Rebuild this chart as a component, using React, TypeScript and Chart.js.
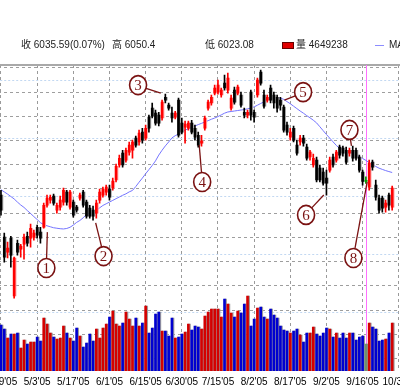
import React, { useEffect, useRef } from 'react';
import { Chart, registerables } from 'chart.js';
Chart.register(...registerables);

// ---- data ----
const tickIdx = [0, 11, 22, 33, 44, 55, 66, 77, 88, 99, 110, 121];
const tickLabels = ["4/19'05", "5/3'05", "5/17'05", "6/1'05", "6/15'05", "6/30'05", "7/15'05", "8/2'05", "8/17'05", "9/2'05", "9/16'05", "10/3'05"];

const opens = [
  5975, 5801, 5739, 5797, 5558, 5776, 5752, 5772, 5805, 5797,
  5801, 5842, 5822, 5842, 5933, 5954, 5971, 5913, 5925, 5946,
  5987, 5925, 5946, 5925, 5962, 5987, 5946, 5921, 5913, 5900,
  5954, 5975, 5987, 6000, 6004, 6037, 6099, 6148, 6119, 6152,
  6160, 6210, 6194, 6235, 6210, 6297, 6334, 6313, 6305, 6293,
  6379, 6346, 6313, 6297, 6367, 6272, 6255, 6251, 6272, 6251,
  6222, 6189, 6251, 6334, 6355, 6396, 6400, 6388, 6437, 6408,
  6334, 6408, 6396, 6388, 6317, 6305, 6400, 6317, 6388, 6483,
  6388, 6367, 6417, 6388, 6379, 6367, 6338, 6264, 6214, 6251,
  6181, 6194, 6210, 6173, 6132, 6099, 6119, 6086, 6070, 6045,
  6078, 6132, 6119, 6173, 6169, 6160, 6148, 6160, 6160, 6132,
  6070, 6031, 6008, 6111, 6016, 5962, 5962, 5925, 5975, 5925,
];
const highs = [
  5995, 5818, 5781, 5805, 5719, 5789, 5772, 5814, 5822, 5855,
  5830, 5851, 5842, 5942, 5975, 5975, 5979, 5942, 5971, 6004,
  5995, 5995, 5954, 5933, 5983, 5995, 5954, 5933, 5929, 5954,
  6000, 6008, 6016, 6016, 6045, 6103, 6140, 6160, 6169, 6194,
  6202, 6218, 6243, 6251, 6264, 6305, 6355, 6326, 6317, 6367,
  6392, 6355, 6338, 6321, 6375, 6293, 6280, 6280, 6284, 6264,
  6235, 6222, 6301, 6367, 6388, 6429, 6450, 6417, 6470, 6479,
  6388, 6421, 6429, 6400, 6334, 6326, 6408, 6326, 6458, 6491,
  6408, 6388, 6429, 6400, 6388, 6379, 6346, 6276, 6251, 6260,
  6202, 6222, 6222, 6185, 6160, 6144, 6132, 6099, 6086, 6078,
  6132, 6144, 6160, 6181, 6177, 6173, 6169, 6177, 6169, 6140,
  6078, 6050.4, 6119, 6119, 6037, 5975, 5971, 5954, 5983, 6012,
];
const lows = [
  5892, 5698, 5715, 5677, 5549, 5727, 5719, 5710, 5764, 5760,
  5789, 5797, 5776, 5838, 5925, 5942, 5933, 5900, 5913, 5933,
  5933, 5917, 5884, 5904, 5954, 5925, 5880, 5880, 5871, 5880,
  5942, 5966, 5975, 5954, 5995, 6029, 6090, 6090, 6111, 6140,
  6127, 6173, 6181, 6189, 6202, 6235, 6293, 6264, 6260, 6284,
  6355, 6326, 6276, 6289, 6214, 6227, 6189, 6243, 6227, 6202,
  6173, 6177, 6243, 6326, 6346, 6388, 6392, 6379, 6408, 6396,
  6326, 6350, 6388, 6338, 6293, 6293, 6284, 6276, 6379, 6429,
  6334, 6359, 6355, 6334, 6317, 6326, 6235, 6222, 6202, 6194,
  6140, 6181, 6177, 6119, 6119, 6090, 6029, 6029, 6016, 5975,
  6070, 6090, 6111, 6127, 6136, 6103, 6136, 6115, 6119, 6070,
  6016, 6023.08, 5995, 6078, 5954, 5900, 5904, 5904, 5913, 5913,
];
const closes = [
  5913, 5719, 5756, 5727, 5715, 5739, 5764, 5801, 5776, 5838,
  5818, 5809, 5797, 5933, 5962, 5966, 5942, 5933, 5954, 5995,
  5946, 5987, 5892, 5913, 5975, 5933, 5888, 5888, 5888, 5942,
  5987, 6000, 6008, 5966, 6033, 6094, 6127, 6099, 6160, 6181,
  6194, 6181, 6231, 6202, 6251, 6251, 6301, 6272, 6272, 6359,
  6367, 6334, 6293, 6313, 6222, 6235, 6268, 6272, 6235, 6214,
  6181, 6198, 6293, 6359, 6379, 6417, 6429, 6408, 6417, 6458,
  6375, 6359, 6421, 6346, 6305, 6317, 6305, 6297, 6450, 6437,
  6342, 6379, 6367, 6355, 6334, 6346, 6243, 6235, 6235, 6202,
  6148, 6210, 6189, 6127, 6152, 6127, 6037, 6037, 6024, 6024,
  6119, 6099, 6152, 6140, 6148, 6111, 6160, 6127, 6127, 6078,
  6031, 6035.59, 6107, 6090, 5966, 5913, 5921, 5942, 5933, 6004,
];
// volume, thousands of shares
const volumes = [
  7921, 7232, 5683, 6371, 6371, 6544, 3961, 5338, 4649, 4994,
  4994, 5855, 5166, 9127, 8093, 6544, 5855, 5510, 5683, 7749,
  6544, 5683, 5166, 7405, 6027, 4133, 4822, 6371, 5166, 7232,
  5683, 7405, 8093, 9299, 10332, 8093, 7749, 8266, 10160, 8954,
  7749, 9127, 7749, 8266, 11193, 6544, 7405, 9815, 10160, 6888,
  6888, 6027, 9127, 5683, 5855, 6371, 6716, 8093, 7060, 7749,
  7577, 7232, 9471, 10160, 10676, 10676, 10676, 9299, 12398, 11537,
  9988, 9299, 10332, 9988, 11537, 12915, 7749, 8954, 10849, 11021,
  9299, 8954, 10676, 9643, 9127, 7749, 7060, 6888, 6544, 6888,
  7232, 6199, 4994, 6544, 6544, 7577, 6371, 6027, 6544, 7405,
  7232, 5855, 6544, 5683, 6544, 5683, 6544, 6544, 5338, 5855,
  6027, 4649, 8266, 7577, 7232, 5166, 5338, 5510, 6544, 8266,
];
const ma = [
  5997, 5988, 5979, 5969, 5959, 5946, 5934, 5924, 5911, 5899,
  5886, 5874, 5861, 5853, 5848, 5844, 5840, 5838, 5836, 5835,
  5837, 5842, 5851, 5862, 5870, 5881, 5895, 5901, 5905, 5910,
  5922, 5932, 5939, 5946, 5953, 5960, 5967, 5974, 5980, 5988,
  5994, 6010, 6028, 6045, 6063, 6080, 6097, 6116, 6140, 6160,
  6178, 6194, 6211, 6220, 6227, 6235, 6243, 6249, 6254, 6260,
  6266, 6271, 6277, 6282, 6288, 6293, 6299, 6306, 6313, 6318,
  6320, 6322, 6324, 6326, 6328, 6331, 6334, 6339, 6346, 6353,
  6360, 6368, 6374, 6376, 6376, 6376, 6370, 6361, 6352, 6342,
  6332, 6322, 6313, 6303, 6294, 6284, 6273, 6257, 6241, 6225,
  6210, 6195, 6180, 6168, 6163, 6158, 6153, 6148, 6140, 6133,
  6126, 6118, 6109, 6101, 6093, 6086, 6081, 6076, 6072, 6068,
];
const cursorIndex = 111;
const priceTicks = [5300, 5400, 5500, 5600, 5700, 5800, 5900, 6000, 6100, 6200, 6300, 6400, 6500];
const volTicks = [10000, 20000, 30000, 40000, 50000];

// circled notes: circle centre (index, price) and the point the pointer reaches
const noteText = ['1', '2', '3', '4', '5', '6', '7', '8'];
const noteIdx = [13.8, 31.2, 41.7, 61.2, 91.9, 92.8, 106, 107.2];
const notePrice = [5674, 5723, 6429, 6029, 6400, 5893, 6244, 5715];
const pointIdx = [14.1, 28.8, 48.6, 60.3, 86.2, 98.2, 106.6, 111.4];
const pointPrice = [5822, 5860, 6396, 6182, 6367, 5975, 6178, 6029];

const infoClose = '收 6035.59(0.07%)';
const infoHigh = '高 6050.4';
const infoLow = '低 6023.08';
const infoVol = '量 4649238';
const infoMA = 'MA20';

const overlayPlugin = {
  id: 'overlay',
  beforeDatasetsDraw(chart: any) {
    const { ctx, chartArea, scales } = chart;
    ctx.save();
    // top frame line
    ctx.strokeStyle = '#a9a9a9';
    ctx.lineWidth = 2;
    ctx.beginPath();
    ctx.moveTo(0, chartArea.top);
    ctx.lineTo(chart.width, chartArea.top);
    ctx.stroke();
    // cursor line
    const cx = Math.round(scales.x.getPixelForValue(cursorIndex)) + 0.5;
    ctx.strokeStyle = '#ff70ff';
    ctx.lineWidth = 1;
    ctx.beginPath();
    ctx.moveTo(cx, chartArea.top);
    ctx.lineTo(cx, chartArea.bottom);
    ctx.stroke();
    ctx.restore();
  },
  afterDatasetsDraw(chart: any) {
    const { ctx, scales } = chart;
    const rx = 8.5, ry = 9.5;
    ctx.save();
    for (let k = 0; k < noteText.length; k++) {
      const cx = scales.x.getPixelForValue(noteIdx[k]);
      const cy = scales.y.getPixelForValue(notePrice[k]);
      const tx = scales.x.getPixelForValue(pointIdx[k]);
      const ty = scales.y.getPixelForValue(pointPrice[k]);
      const ang = Math.atan2(ty - cy, tx - cx);
      ctx.strokeStyle = '#7a1212';
      ctx.lineWidth = 1.3;
      ctx.beginPath();
      ctx.moveTo(cx + rx * Math.cos(ang), cy + ry * Math.sin(ang));
      ctx.lineTo(tx, ty);
      ctx.stroke();
      ctx.beginPath();
      ctx.ellipse(cx, cy, rx, ry, 0, 0, Math.PI * 2);
      ctx.fillStyle = '#ffffff';
      ctx.fill();
      ctx.lineWidth = 1.6;
      ctx.stroke();
      ctx.fillStyle = '#7a1212';
      ctx.font = '15px "Liberation Serif", "DejaVu Serif", serif';
      ctx.textAlign = 'center';
      ctx.textBaseline = 'middle';
      ctx.fillText(noteText[k], cx, cy + 1);
    }
    ctx.restore();
  },
};

export default function App() {
  const ref = useRef<HTMLCanvasElement>(null);
  useEffect(() => {
    if (!ref.current) return;
    const idx = closes.map((_, i) => i);
    const up = (i: number) => closes[i] >= opens[i];
    const candleColor = (i: number) => (i === cursorIndex ? '#00a000' : up(i) ? '#ff0000' : '#000000');
    const shadowColor = (i: number) => (i === cursorIndex ? '#90d090' : up(i) ? '#ffa8a8' : '#a8a8a8');
    const volColor = (i: number) => (i === cursorIndex ? '#6f8f6f' : up(i) ? '#d40000' : '#0000d0');

    const chart = new Chart(ref.current, {
      type: 'bar',
      data: {
        datasets: [
          {
            type: 'bar', label: 'volShadow', yAxisID: 'yVol', order: 10, grouped: false,
            data: idx.map((i) => ({ x: i + 0.33, y: volumes[i] })),
            backgroundColor: '#9c9c9c', barThickness: 2,
          },
          {
            type: 'bar', label: 'vol', yAxisID: 'yVol', order: 9, grouped: false,
            data: idx.map((i) => ({ x: i, y: volumes[i] })),
            backgroundColor: idx.map(volColor), barThickness: 2,
          },
          {
            type: 'line', label: 'MA', yAxisID: 'y', order: 8,
            data: idx.map((i) => ({ x: i, y: ma[i] })),
            borderColor: '#7474ff', borderWidth: 1, pointRadius: 0, tension: 0,
          },
          {
            type: 'bar', label: 'bodyShadow', yAxisID: 'y', order: 7, grouped: false,
            data: idx.map((i) => ({ x: i + 0.3, y: [opens[i], closes[i]] })),
            backgroundColor: idx.map(shadowColor), barThickness: 2, minBarLength: 1,
          },
          {
            type: 'bar', label: 'wick', yAxisID: 'y', order: 6, grouped: false,
            data: idx.map((i) => ({ x: i, y: [lows[i], highs[i]] })),
            backgroundColor: idx.map(candleColor), barThickness: 1,
          },
          {
            type: 'bar', label: 'body', yAxisID: 'y', order: 5, grouped: false,
            data: idx.map((i) => ({ x: i, y: [opens[i], closes[i]] })),
            backgroundColor: idx.map(candleColor), barThickness: 2, minBarLength: 1,
          },
        ] as any,
      },
      options: {
        animation: false,
        responsive: true,
        maintainAspectRatio: false,
        events: [],
        layout: { padding: { top: 65, left: 0, right: 0, bottom: 0 } },
        plugins: { legend: { display: false }, tooltip: { enabled: false } },
        scales: {
          x: {
            type: 'linear', min: -6.32, max: 125.8, offset: false,
            afterBuildTicks: (s: any) => { s.ticks = tickIdx.map((v) => ({ value: v })); },
            afterFit: (s: any) => { s.height = 18; },
            grid: { offset: false, color: '#9a9a9a', drawTicks: false },
            border: { display: false, dash: [3, 3] },
            ticks: {
              autoSkip: false, maxRotation: 0, minRotation: 0, padding: 5, color: '#000',
              font: { family: '"Liberation Sans", Arial, sans-serif', size: 10 },
              callback: (v: any) => { const k = tickIdx.indexOf(Number(v)); return k >= 0 ? tickLabels[k] : ''; },
            },
          },
          y: {
            type: 'linear', position: 'left', min: 5248.5, max: 6512,
            afterBuildTicks: (s: any) => { s.ticks = priceTicks.map((v) => ({ value: v })); },
            afterFit: (s: any) => { s.width = 0; },
            grid: { color: '#9e9e9e', drawTicks: false },
            border: { display: false, dash: [3, 3] },
            ticks: { display: false },
          },
          yVol: {
            type: 'linear', position: 'right', min: 0, max: 52693,
            afterBuildTicks: (s: any) => { s.ticks = volTicks.map((v) => ({ value: v })); },
            afterFit: (s: any) => { s.width = 0; },
            grid: { color: '#c2d8f2', drawTicks: false },
            border: { display: false, dash: [2, 2] },
            ticks: { display: false },
          },
        },
      } as any,
      plugins: [overlayPlugin],
    });
    return () => chart.destroy();
  }, []);

  const txt: React.CSSProperties = {
    position: 'absolute', top: 39, fontSize: 10, lineHeight: '12px', color: '#222',
    fontFamily: '"Liberation Sans", "Noto Sans CJK TC", sans-serif', whiteSpace: 'nowrap',
  };
  return (
    <div style={{ position: 'fixed', left: 0, top: 0, width: 400, height: 389, overflow: 'hidden', background: '#fff' }}>
      <div style={{ position: 'absolute', left: -20, top: 0, width: 440, height: 389 }}>
        <canvas ref={ref} style={{ display: 'block' }} />
      </div>
      <div style={{ ...txt, left: 21 }}>{infoClose}</div>
      <div style={{ ...txt, left: 112 }}>{infoHigh}</div>
      <div style={{ ...txt, left: 205 }}>{infoLow}</div>
      <div style={{ position: 'absolute', left: 282, top: 42, width: 10, height: 5, background: '#e00000', border: '1px solid #600' }} />
      <div style={{ ...txt, left: 296 }}>{infoVol}</div>
      <div style={{ position: 'absolute', left: 375, top: 45, width: 9, height: 1, background: '#8c8cff' }} />
      <div style={{ ...txt, left: 389 }}>{infoMA}</div>
    </div>
  );
}
